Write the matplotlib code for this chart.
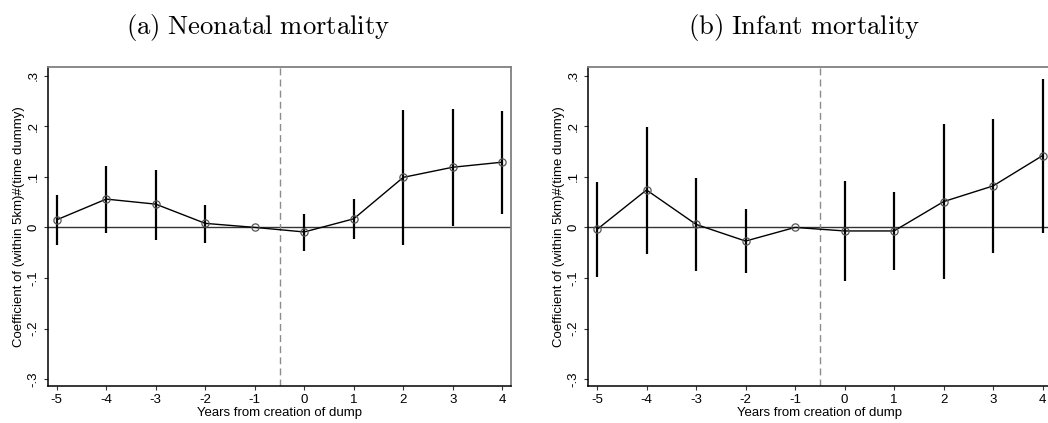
import matplotlib
matplotlib.use("Agg")
import matplotlib.pyplot as plt
import numpy as np

plt.rcParams['font.family'] = ['Liberation Sans', 'DejaVu Sans']
plt.rcParams['mathtext.fontset'] = 'cm'

years = [-5, -4, -3, -2, -1, 0, 1, 2, 3, 4]

# (a) Neonatal mortality
neo_coef = [0.015, 0.056, 0.046, 0.008, 0.0, -0.009, 0.017, 0.099, 0.119, 0.129]
neo_hi = [0.064, 0.122, 0.114, 0.044, 0.0, 0.026, 0.056, 0.233, 0.234, 0.231]
neo_lo = [-0.035, -0.012, -0.025, -0.030, 0.0, -0.047, -0.023, -0.035, 0.003, 0.026]

# (b) Infant mortality
inf_coef = [-0.004, 0.074, 0.006, -0.027, 0.0, -0.007, -0.007, 0.051, 0.082, 0.142]
inf_hi = [0.089, 0.199, 0.098, 0.036, 0.0, 0.092, 0.070, 0.204, 0.214, 0.294]
inf_lo = [-0.098, -0.052, -0.086, -0.090, 0.0, -0.106, -0.084, -0.102, -0.050, -0.011]

ytick_vals = [-0.3, -0.2, -0.1, 0, 0.1, 0.2, 0.3]
ytick_labels = ['-.3', '-.2', '-.1', '0', '.1', '.2', '.3']

titles = [r'$\mathrm{(a)\ Neonatal\ mortality}$', r'$\mathrm{(b)\ Infant\ mortality}$']
xlabel = 'Years from creation of dump'
ylabel = 'Coefficient of (within 5km)#(time dummy)'

W, H = 1048, 423
fig = plt.figure(figsize=(W / 100, H / 100), dpi=100)

panels = [
    (48, neo_coef, neo_lo, neo_hi, 258),
    (588.3, inf_coef, inf_lo, inf_hi, 804.5),
]

for i, (left_px, coef, lo, hi, tx) in enumerate(panels):
    ax = fig.add_axes([left_px / W, (H - 385.7) / H, 463 / W, 318.4 / H])
    ax.set_xlim(-5.176, 4.176)
    ax.set_ylim(-0.313, 0.3166)
    ax.axhline(0, color='#333333', lw=1.0, zorder=1)
    ax.axvline(-0.5, color='#8c8c8c', lw=1.0, ls=(0, (5, 3)), zorder=1)
    for x, l, h in zip(years, lo, hi):
        ax.vlines(x, l, h, color='black', lw=1.6, zorder=2)
    ax.plot(years, coef, color='black', lw=1.0, zorder=3)
    ax.plot(years, coef, ls='none', marker='o', ms=5.2, mfc='none',
            mec='#555555', mew=0.9, zorder=4)
    ax.set_xticks(years)
    ax.set_xticklabels([str(y) for y in years])
    ax.set_yticks(ytick_vals)
    ax.set_yticklabels(ytick_labels)
    ax.tick_params(axis='both', direction='out', length=3.2, width=0.8,
                   labelsize=9.5, color='#333333')
    ax.tick_params(axis='y', labelrotation=90, pad=3)
    ax.tick_params(axis='x', pad=3)
    for lab in ax.get_yticklabels():
        lab.set_va('center')
    ax.set_xlabel(xlabel, fontsize=9.5, labelpad=0.5)
    ax.set_ylabel(ylabel, fontsize=9.5, labelpad=2)
    for s in ['left', 'bottom']:
        ax.spines[s].set_color('black')
        ax.spines[s].set_linewidth(1.1)
    for s in ['top', 'right']:
        ax.spines[s].set_color('#808080')
        ax.spines[s].set_linewidth(1.3)
    fig.text(tx / W, 1 - 27.5 / H, titles[i], fontsize=19.2, ha='center', va='center')

fig.savefig('out.png', dpi=100, facecolor='white')
